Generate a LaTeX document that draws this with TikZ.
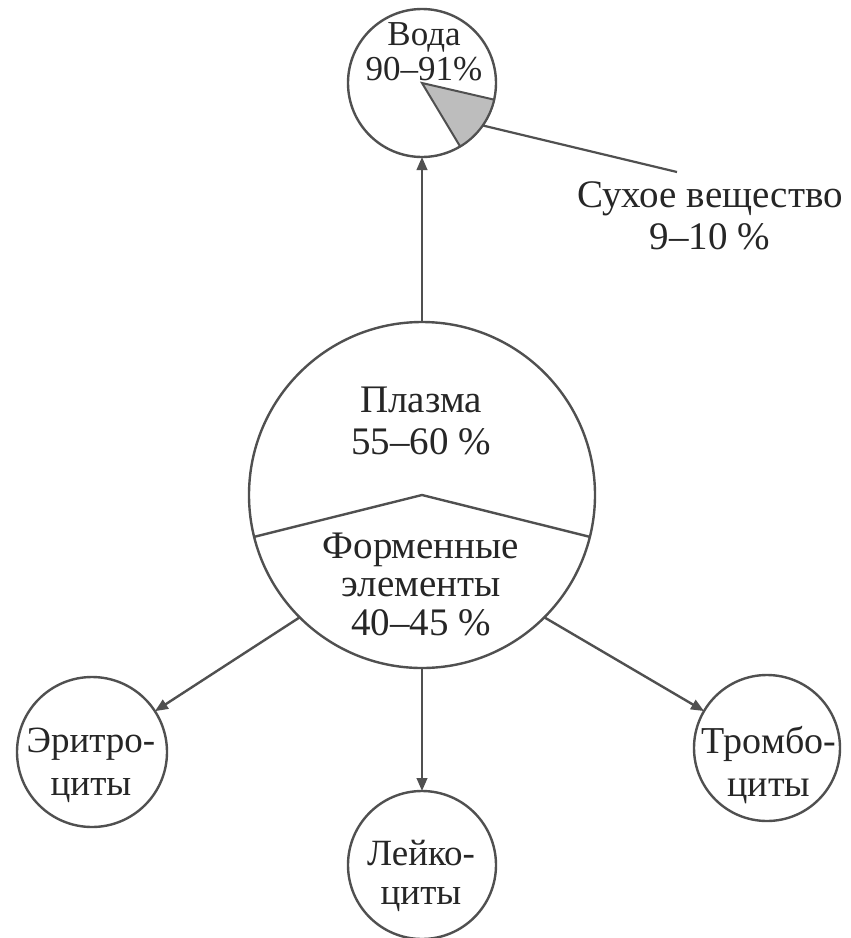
\documentclass[tikz,border=0pt]{standalone}
\usepackage{fontspec}
\setmainfont{Liberation Serif}
\usetikzlibrary{arrows.meta}
\definecolor{ink}{HTML}{505050}
\definecolor{txt}{HTML}{262626}
\definecolor{sect}{HTML}{BDBDBD}
\begin{document}
\begin{tikzpicture}[x=1pt,y=-1pt,
  bub/.style={circle,draw=ink,line width=2.4pt,inner sep=0pt,outer sep=0pt},
  lbl/.style={align=center,text=txt,inner sep=0pt},
  arr/.style={draw=ink,line width=2.4pt,-{Triangle[length=13pt,width=10.5pt]}}]
\fill[white] (0,0) rectangle (851,938);
\useasboundingbox (0,0) rectangle (851,938);
% circles
\node[bub,minimum size=148pt] (voda) at (422,83) {};
\node[bub,minimum size=346pt] (plasma) at (422,495) {};
\node[bub,minimum size=150pt] (eryth) at (92,752) {};
\node[bub,minimum size=148pt] (leuko) at (422,865) {};
\node[bub,minimum size=146pt] (tromb) at (767,748) {};
% dry-matter sector
\filldraw[fill=sect,draw=ink,line width=2pt] (voda.center) -- (voda.-13) arc[start angle=-13,end angle=-59,radius=74pt] -- cycle;
% plasma / formed elements boundary
\draw[ink,line width=2.4pt] (plasma.194) -- (plasma.center) -- (plasma.-14);
% arrows
\draw[arr] (plasma.north) -- (voda.south);
\draw[arr] (plasma.225) -- (eryth);
\draw[arr] (plasma.south) -- (leuko);
\draw[arr] (plasma.-45) -- (tromb);
% leader line
\coordinate (lead) at (677,172);
\draw[ink,line width=2.2pt] (voda.-35) -- (lead);
% labels
\node[lbl,font=\fontsize{35}{35}\selectfont] (vodatxt) at (424,52) {Вода\\90–91\%};
\node[lbl,font=\fontsize{39}{42}\selectfont] (plasmatxt) at (421,421) {Плазма\\55–60 \%};
\node[lbl,font=\fontsize{39}{38.5}\selectfont] (formtxt) at (421,584) {Форменные\\элементы\\40–45 \%};
\node[lbl,font=\fontsize{39}{42}\selectfont] (drytxt) at (710,216) {Сухое вещество\\9–10 \%};
\node[lbl,font=\fontsize{37}{43}\selectfont] (erytxt) at (91,765) {Эритро-\\циты};
\node[lbl,font=\fontsize{37}{39}\selectfont] (leukotxt) at (421,876) {Лейко-\\циты};
\node[lbl,font=\fontsize{38}{43}\selectfont] (trombtxt) at (769,765) {Тромбо-\\циты};
\end{tikzpicture}
\end{document}
